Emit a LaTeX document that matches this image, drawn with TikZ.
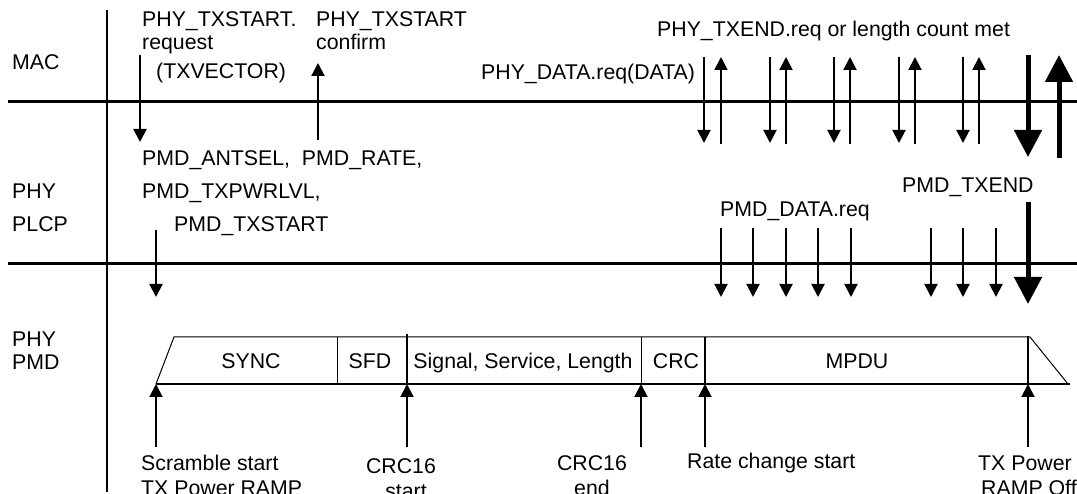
\documentclass[tikz,border=0pt]{standalone}
\usepackage{fontspec}
\setmainfont{Liberation Sans}
\usetikzlibrary{arrows.meta}
\tikzset{
  lbl/.style={inner sep=0pt, anchor=base west, font=\fontsize{21.3}{24}\selectfont},
  clbl/.style={inner sep=0pt, anchor=base, font=\fontsize{21.3}{24}\selectfont},
  arr/.style={line width=2pt, -{Triangle[width=13pt,length=13pt]}},
  bigarr/.style={line width=5pt, -{Triangle[width=27pt,length=27pt]}},
  bus/.style={line width=3pt},
  frame/.style={line width=1pt},
}
\begin{document}
\begin{tikzpicture}[x=1pt,y=-1pt]
\useasboundingbox (0,0) rectangle (1077,494);
% layer names
\node[lbl] (mac) at (12,70) {MAC};
\node[lbl] (phy1) at (12,199) {PHY};
\node[lbl] (plcp) at (12,232) {PLCP};
\node[lbl] (phy2) at (12,347) {PHY};
\node[lbl] (pmd) at (12,370) {PMD};
% axes
\draw[line width=1.5pt] (107,10) -- (107,492);
\draw[bus] (8,102) -- (1077,102);
\draw[bus] (8,264) -- (1077,264);
% MAC texts
\node[lbl] (txs) at (142,27) {PHY\_TXSTART.};
\node[lbl] (req) at (142,50) {request};
\node[lbl] (txv) at (156,79) {(TXVECTOR)};
\node[lbl] (txc) at (316,27) {PHY\_TXSTART};
\node[lbl] (conf) at (316,50) {confirm};
\node[lbl] (dreq) at (481,80) {PHY\_DATA.req(DATA)};
\node[lbl] (txend) at (657,37) {PHY\_TXEND.req or length count met};
% MAC arrows
\coordinate (a1s) at (140,55); \coordinate (a1e) at (140,142);
\draw[arr] (a1s) -- (a1e);
\coordinate (a2s) at (318,140); \coordinate (a2e) at (318,63);
\draw[arr] (a2s) -- (a2e);
\foreach \d/\u in {704/721, 770/786, 834/850, 899/915, 963/979}{
  \draw[arr] (\d,57) -- (\d,143);
  \draw[arr] (\u,144) -- (\u,57);
}
\draw[bigarr] (1028,55) -- (1028,157);
\draw[bigarr] (1059,158) -- (1059,55);
% PLCP texts
\node[lbl] (ant) at (142,166) {PMD\_ANTSEL,\ \ PMD\_RATE,};
\node[lbl] (pwr) at (142,199) {PMD\_TXPWRLVL,};
\node[lbl] (pst) at (174,232) {PMD\_TXSTART};
\node[lbl] (pdr) at (720,217) {PMD\_DATA.req};
\node[lbl] (pte) at (902,193) {PMD\_TXEND};
% PLCP arrows
\draw[arr] (156,230) -- (156,297);
\foreach \x in {721,753,786,818,851,931,963,996}{
  \draw[arr] (\x,228) -- (\x,297);
}
\draw[bigarr] (1028,202) -- (1028,304);
% PMD frame
\draw[frame] (156,384) -- (174,337) -- (1030,337) -- (1068,384);
\draw[line width=2.5pt] (156,384) -- (543,384);
\draw[line width=1.6pt] (543,384) -- (1070,384);
\draw[frame] (337,337) -- (337,384);
\draw[line width=1.5pt] (407,334) -- (407,384);
\draw[frame] (641,337) -- (641,384);
\draw[line width=1.5pt] (705,337) -- (705,384);
\draw[line width=2.5pt] (1028,336) -- (1028,384);
\node[clbl] (sync) at (251,369) {SYNC};
\node[clbl] (sfd) at (370,369) {SFD};
\node[clbl] (sig) at (523,369) {Signal, Service, Length};
\node[clbl] (crc) at (676,369) {CRC};
\node[clbl] (mpdu) at (857,369) {MPDU};
% PMD arrows
\foreach \x in {156,407,641,705,1028}{
  \draw[arr] (\x,447) -- (\x,384);
}
% bottom labels
\node[lbl] (scr) at (141,470) {Scramble start};
\node[lbl] (ramp) at (141,495) {TX Power RAMP};
\node[clbl] (c16s) at (401,473) {CRC16};
\node[clbl] (c16st) at (406,498) {start};
\node[clbl] (c16e) at (592,470) {CRC16};
\node[clbl] (c16en) at (592,495) {end};
\node[lbl] (rate) at (687,468) {Rate change start};
\node[lbl] (txp) at (978,470) {TX Power};
\node[lbl] (roff) at (981,495) {RAMP Off};
\end{tikzpicture}
\end{document}
